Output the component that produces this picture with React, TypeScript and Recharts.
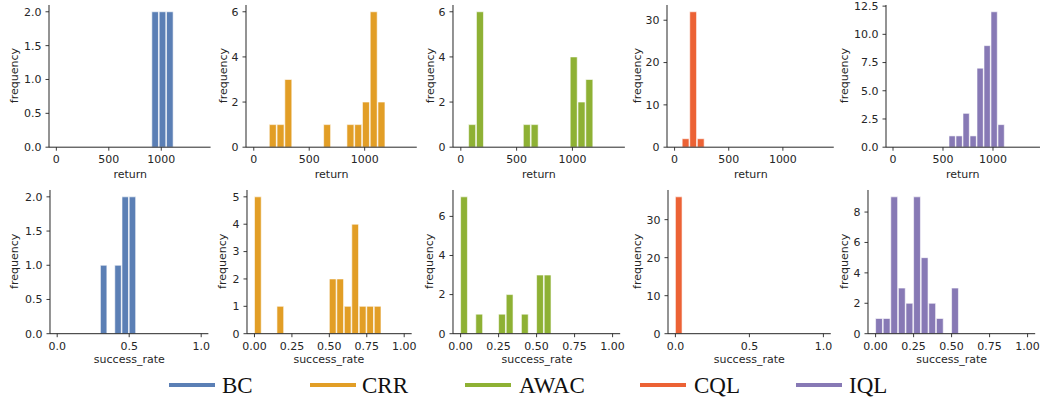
import { BarChart, Bar, XAxis, YAxis } from 'recharts'

// 20 bins of width 70 over 0..1400 (return) and width 0.05 over 0..1 (success_rate)
const returnBinCenters = [35, 105, 175, 245, 315, 385, 455, 525, 595, 665, 735, 805, 875, 945, 1015, 1085, 1155, 1225, 1295, 1365]
const successBinCenters = [0.025, 0.075, 0.125, 0.175, 0.225, 0.275, 0.325, 0.375, 0.425, 0.475, 0.525, 0.575, 0.625, 0.675, 0.725, 0.775, 0.825, 0.875, 0.925, 0.975]

const algorithms = ['BC', 'CRR', 'AWAC', 'CQL', 'IQL']
const colors = ['#5b7fb5', '#e29e26', '#8eb134', '#ec6235', '#8779b5']

// counts per bin
const bcReturn = [0, 0, 0, 0, 0, 0, 0, 0, 0, 0, 0, 0, 0, 2, 2, 2, 0, 0, 0, 0]
const crrReturn = [0, 0, 1, 1, 3, 0, 0, 0, 0, 1, 0, 0, 1, 1, 2, 6, 2, 0, 0, 0]
const awacReturn = [0, 1, 6, 0, 0, 0, 0, 0, 1, 1, 0, 0, 0, 0, 4, 2, 3, 0, 0, 0]
const cqlReturn = [0, 2, 32, 2, 0, 0, 0, 0, 0, 0, 0, 0, 0, 0, 0, 0, 0, 0, 0, 0]
const iqlReturn = [0, 0, 0, 0, 0, 0, 0, 0, 1, 1, 3, 1, 7, 9, 12, 2, 0, 0, 0, 0]

const bcSuccess = [0, 0, 0, 0, 0, 0, 1, 0, 1, 2, 2, 0, 0, 0, 0, 0, 0, 0, 0, 0]
const crrSuccess = [5, 0, 0, 1, 0, 0, 0, 0, 0, 0, 2, 2, 1, 4, 1, 1, 1, 0, 0, 0]
const awacSuccess = [7, 0, 1, 0, 0, 1, 2, 0, 1, 0, 3, 3, 0, 0, 0, 0, 0, 0, 0, 0]
const cqlSuccess = [36, 0, 0, 0, 0, 0, 0, 0, 0, 0, 0, 0, 0, 0, 0, 0, 0, 0, 0, 0]
const iqlSuccess = [1, 1, 9, 3, 2, 9, 5, 2, 1, 0, 3, 0, 0, 0, 0, 0, 0, 0, 0, 0]

// tick labels
const returnTicks = [0, 500, 1000]
const successTicksCoarse = [0, 0.5, 1]
const successTicksFine = [0, 0.25, 0.5, 0.75, 1]
const yTicksHalf = [0, 0.5, 1, 1.5, 2]
const yTicksEven6 = [0, 2, 4, 6]
const yTicksTens = [0, 10, 20, 30]
const yTicksIql = [0, 2.5, 5, 7.5, 10, 12.5]
const yTicksFive = [0, 1, 2, 3, 4, 5]
const yTicksEven8 = [0, 2, 4, 6, 8]

const INK = '#262626'
const FONT = 'DejaVu Sans, sans-serif'
const TOP = 6
const YW = 60
const XH = 30
const RIGHT = 6

interface PanelSpec {
  counts: number[]
  color: number
  kind: 'return' | 'success'
  xTicks: number[]
  xDec: number
  yTicks: number[]
  yDec: number
  left: number
  width: number
  top: number
  height: number
  labelX: number
}

const row1 = { top: 4.5, height: 142.2 }
const row2 = { top: 189.5, height: 143.7 }

const panels: PanelSpec[] = [
  { counts: bcReturn, color: 0, kind: 'return', xTicks: returnTicks, xDec: 0, yTicks: yTicksHalf, yDec: 1, left: 49.4, width: 161.6, ...row1, labelX: 18.4 },
  { counts: crrReturn, color: 1, kind: 'return', xTicks: returnTicks, xDec: 0, yTicks: yTicksEven6, yDec: 0, left: 246.2, width: 170.8, ...row1, labelX: 226.7 },
  { counts: awacReturn, color: 2, kind: 'return', xTicks: returnTicks, xDec: 0, yTicks: yTicksEven6, yDec: 0, left: 452.9, width: 171.9, ...row1, labelX: 434.1 },
  { counts: cqlReturn, color: 3, kind: 'return', xTicks: returnTicks, xDec: 0, yTicks: yTicksTens, yDec: 0, left: 667.4, width: 166.8, ...row1, labelX: 640.7 },
  { counts: iqlReturn, color: 4, kind: 'return', xTicks: returnTicks, xDec: 0, yTicks: yTicksIql, yDec: 1, left: 885.7, width: 154, ...row1, labelX: 847.7 },
  { counts: bcSuccess, color: 0, kind: 'success', xTicks: successTicksCoarse, xDec: 1, yTicks: yTicksHalf, yDec: 1, left: 50.1, width: 158.4, ...row2, labelX: 18.4 },
  { counts: crrSuccess, color: 1, kind: 'success', xTicks: successTicksFine, xDec: 2, yTicks: yTicksFive, yDec: 0, left: 246.5, width: 164.7, ...row2, labelX: 226 },
  { counts: awacSuccess, color: 2, kind: 'success', xTicks: successTicksFine, xDec: 2, yTicks: yTicksEven6, yDec: 0, left: 453.4, width: 167.2, ...row2, labelX: 433.4 },
  { counts: cqlSuccess, color: 3, kind: 'success', xTicks: successTicksCoarse, xDec: 1, yTicks: yTicksTens, yDec: 0, left: 667.9, width: 162.8, ...row2, labelX: 640.7 },
  { counts: iqlSuccess, color: 4, kind: 'success', xTicks: successTicksFine, xDec: 2, yTicks: yTicksEven8, yDec: 0, left: 868.1, width: 167.2, ...row2, labelX: 848 },
]

function Histogram({ p }: { p: PanelSpec }) {
  const centers = p.kind === 'return' ? returnBinCenters : successBinCenters
  const binW = p.kind === 'return' ? 70 : 0.05
  const domain: [number, number] = p.kind === 'return' ? [-70, 1470] : [-0.05, 1.05]
  const data = centers.map((x, i) => ({ x, count: p.counts[i] }))
  const maxCount = Math.max(...p.counts)
  const barSize = (p.width * binW) / (domain[1] - domain[0])
  const tickStyle = { fill: INK, fontSize: 11, fontFamily: FONT }

  return (
    <div style={{ position: 'absolute', left: p.left - YW, top: p.top - TOP }}>
      <BarChart
        width={YW + p.width + RIGHT}
        height={TOP + p.height + XH}
        data={data}
        margin={{ top: TOP, right: RIGHT, left: 0, bottom: 0 }}
        barCategoryGap={0}
        barGap={0}
      >
        <XAxis
          type="number"
          dataKey="x"
          domain={domain}
          ticks={p.xTicks}
          interval={0}
          allowDataOverflow
          height={XH}
          tick={tickStyle}
          tickSize={3.5}
          tickMargin={5}
          tickFormatter={(v: number) => v.toFixed(p.xDec)}
          axisLine={{ stroke: INK, strokeWidth: 1 }}
          tickLine={{ stroke: INK, strokeWidth: 0.9 }}
        />
        <YAxis
          type="number"
          domain={[0, maxCount * 1.05]}
          ticks={p.yTicks}
          interval={0}
          width={YW}
          tick={tickStyle}
          tickSize={3.5}
          tickMargin={4}
          tickFormatter={(v: number) => v.toFixed(p.yDec)}
          axisLine={{ stroke: INK, strokeWidth: 1 }}
          tickLine={{ stroke: INK, strokeWidth: 0.9 }}
        />
        <Bar
          dataKey="count"
          fill={colors[p.color]}
          stroke="#ffffff"
          strokeWidth={0.6}
          barSize={barSize}
          isAnimationActive={false}
        />
      </BarChart>
    </div>
  )
}

// legend layout (page px)
const legendLineX = [169, 310, 465, 640, 796]
const legendTextX = [222, 362, 519, 694, 849]

export default function App() {
  return (
    <div style={{ position: 'absolute', left: 0, top: 0, width: 1040, height: 402, background: '#fff', overflow: 'hidden' }}>
      {panels.map((p, i) => (
        <Histogram key={i} p={p} />
      ))}
      <svg width={1040} height={402} style={{ position: 'absolute', left: 0, top: 0, pointerEvents: 'none' }}>
        {panels.map((p, i) => (
          <g key={i} fontFamily={FONT} fontSize={11} fill={INK}>
            <text x={p.left + p.width / 2} y={p.kind === 'return' ? 178 : 363} textAnchor="middle">
              {p.kind === 'return' ? 'return' : 'success_rate'}
            </text>
            <text
              x={p.labelX}
              y={p.top + p.height / 2}
              textAnchor="middle"
              transform={`rotate(-90 ${p.labelX} ${p.top + p.height / 2})`}
            >
              frequency
            </text>
          </g>
        ))}
        {algorithms.map((name, i) => (
          <g key={name}>
            <line x1={legendLineX[i]} x2={legendLineX[i] + 46} y1={385} y2={385} stroke={colors[i]} strokeWidth={4} />
            <text x={legendTextX[i]} y={393} fontFamily="Liberation Serif, Times New Roman, serif" fontSize={23} fill="#111">
              {name}
            </text>
          </g>
        ))}
      </svg>
    </div>
  )
}
